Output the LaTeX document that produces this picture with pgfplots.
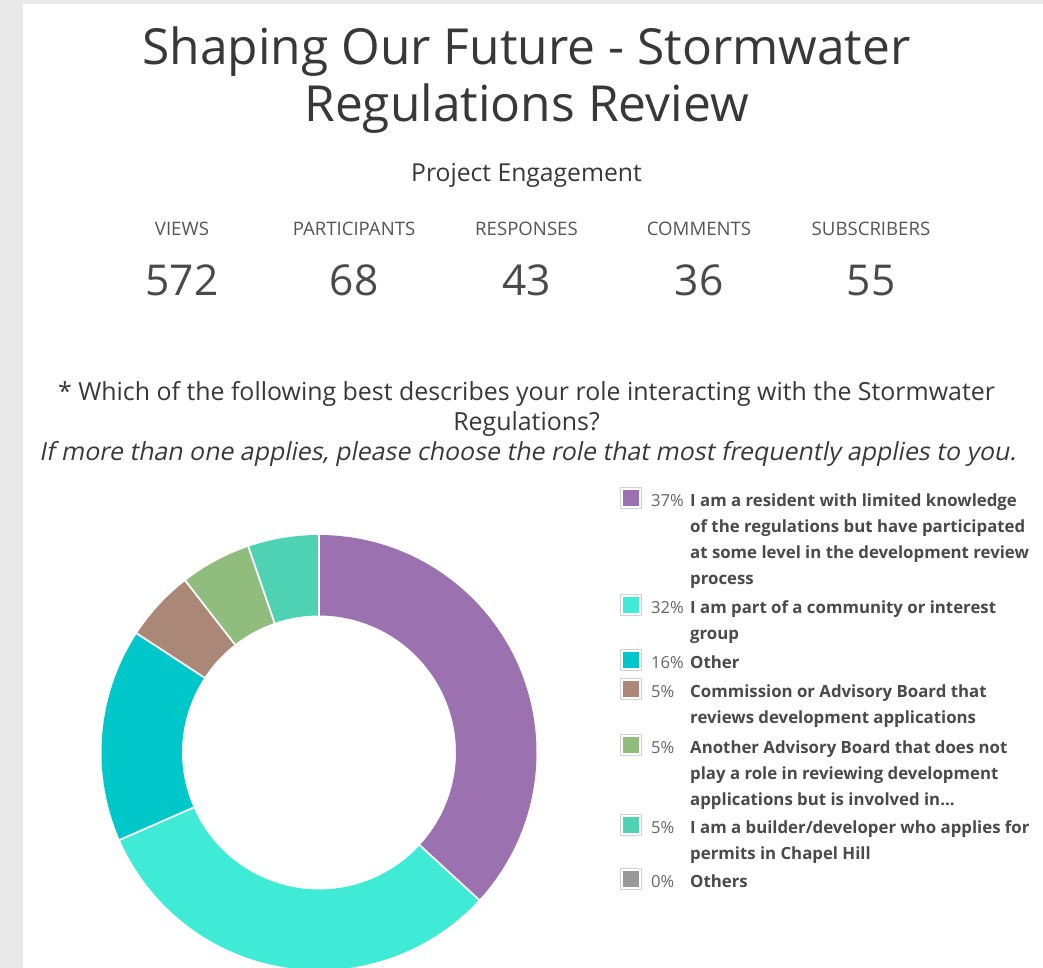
\documentclass[border=0pt]{standalone}
\usepackage{pgfplots}
\pgfplotsset{compat=1.18}
\usepackage{pgfplotstable}
\usepackage{fontspec}
\setmainfont{Open Sans}
\newfontfamily\slantfont{Open Sans}[FakeSlant=0.2]
\definecolor{bggray}{HTML}{E9E9E9}
\definecolor{titlec}{HTML}{383838}
\definecolor{labc}{HTML}{555555}
\definecolor{numc}{HTML}{4A4A4A}
\definecolor{legc}{HTML}{4A4A4A}
\definecolor{pctc}{HTML}{666666}
\definecolor{legborder}{HTML}{D0D0D0}
\definecolor{slice0}{HTML}{9B71B0}
\definecolor{slice1}{HTML}{3FEBD6}
\definecolor{slice2}{HTML}{00C7CA}
\definecolor{slice3}{HTML}{AA8777}
\definecolor{slice4}{HTML}{90BC7E}
\definecolor{slice5}{HTML}{4FD2B4}
\definecolor{slice6}{HTML}{999999}

% responses per role (N = 19)
\pgfplotstableread{
count
7
6
3
1
1
1
0
}\roledata

\newcommand\legsq[2]{%
  \draw[legborder, fill=white, line width=1pt] (620.5,{968-#1-1.5}) rectangle (641.5,{968-#1+19.5});
  \fill[#2] (622.8,{968-#1+0.8}) rectangle (639.2,{968-#1+17.2});}
\newcommand\legpct[2]{\node[anchor=base west, inner sep=0pt, font=\fontsize{16.6}{20}\selectfont, text=pctc] at (651,{968-#1}) {#2};}
\newcommand\legline[2]{\node[anchor=base west, inner sep=0pt, font=\fontsize{16.8}{20}\selectfont\bfseries, text=legc] at (690,{968-#1}) {#2};}

\begin{document}
\begin{tikzpicture}[x=1pt,y=1pt]
\fill[bggray] (0,0) rectangle (1043,968);
\fill[white] (23,0) rectangle (1043,964);

% titles
\node[anchor=base, inner sep=0pt, font=\fontsize{49.7}{58}\selectfont, text=titlec] at (526.5,{968-65}) {Shaping Our Future - Stormwater};
\node[anchor=base, inner sep=0pt, font=\fontsize{49.7}{58}\selectfont, text=titlec] at (526.5,{968-122}) {Regulations Review};
\node[anchor=base, inner sep=0pt, font=\fontsize{24.7}{30}\selectfont, text=titlec] at (526.5,{968-182}) {Project Engagement};

% engagement stats
\foreach \xc/\lab/\num in {182/VIEWS/572, 354/PARTICIPANTS/68, 526.5/RESPONSES/43, 699/COMMENTS/36, 871/SUBSCRIBERS/55}{
  \node[anchor=base, inner sep=0pt, font=\fontsize{18.6}{22}\selectfont, text=labc] at (\xc,{968-236}) {\lab};
  \node[anchor=base, inner sep=0pt, font=\fontsize{42.5}{50}\selectfont, text=numc] at (\xc,{968-296}) {\num};
}

% question
\node[anchor=base, inner sep=0pt, font=\fontsize{24.9}{30}\selectfont, text=titlec] at (526.5,{968-401}) {* Which of the following best describes your role interacting with the Stormwater};
\node[anchor=base, inner sep=0pt, font=\fontsize{24.9}{30}\selectfont, text=titlec] at (526.5,{968-431}) {Regulations?};
\node[anchor=base, inner sep=0pt, font=\fontsize{24.9}{30}\selectfont\slantfont, text=titlec] at (527.5,{968-461}) {If more than one applies, please choose the role that most frequently applies to you.};

% total
\def\total{0}
\pgfplotsforeachungrouped \i in {0,...,6}{%
  \pgfplotstablegetelem{\i}{count}\of\roledata
  \pgfmathsetmacro\total{\total+\pgfplotsretval}}

\begin{axis}[at={(0,0)}, anchor=south west, width=1043pt, height=968pt, scale only axis,
  xmin=0, xmax=1043, ymin=0, ymax=968, hide axis, clip=false]
\def\cum{0}
\pgfplotsforeachungrouped \i in {0,...,5}{%
  \pgfplotstablegetelem{\i}{count}\of\roledata
  \pgfmathsetmacro\aS{90-360*\cum/\total}%
  \pgfmathsetmacro\cum{\cum+\pgfplotsretval}%
  \pgfmathsetmacro\aE{90-360*\cum/\total}%
  \edef\temp{\noexpand\addplot[draw=slice\i, line width=80.5pt, line cap=butt, line join=round, domain=\aE:\aS, samples=120, no markers] ({319+177.25*cos(x)},{215.5+177.25*sin(x)});}%
  \temp
}
\def\cum{0}
\pgfplotsforeachungrouped \i in {0,...,5}{%
  \pgfplotstablegetelem{\i}{count}\of\roledata
  \pgfmathsetmacro\aS{90-360*\cum/\total}%
  \pgfmathsetmacro\cum{\cum+\pgfplotsretval}%
  \pgfmathsetmacro\xa{319+135*cos(\aS)}%
  \pgfmathsetmacro\ya{215.5+135*sin(\aS)}%
  \pgfmathsetmacro\xb{319+220*cos(\aS)}%
  \pgfmathsetmacro\yb{215.5+220*sin(\aS)}%
  \edef\temp{\noexpand\draw[white, line width=1.8pt] (axis cs:\xa,\ya) -- (axis cs:\xb,\yb);}%
  \temp
}
\end{axis}

% legend
\legsq{507}{slice0}\legpct{507}{37\%}
\legline{507}{I am a resident with limited knowledge}
\legline{533}{of the regulations but have participated}
\legline{559}{at some level in the development review}
\legline{585}{process}
\legsq{614}{slice1}\legpct{614}{32\%}
\legline{614}{I am part of a community or interest}
\legline{640}{group}
\legsq{669}{slice2}\legpct{669}{16\%}
\legline{669}{Other}
\legsq{698}{slice3}\legpct{698}{5\%}
\legline{698}{Commission or Advisory Board that}
\legline{724}{reviews development applications}
\legsq{754}{slice4}\legpct{754}{5\%}
\legline{754}{Another Advisory Board that does not}
\legline{780}{play a role in reviewing development}
\legline{806}{applications but is involved in...}
\legsq{834}{slice5}\legpct{834}{5\%}
\legline{834}{I am a builder/developer who applies for}
\legline{860}{permits in Chapel Hill}
\legsq{888}{slice6}\legpct{888}{0\%}
\legline{888}{Others}

\pgfresetboundingbox
\path[use as bounding box] (0,0) rectangle (1043,968);
\end{tikzpicture}
\end{document}
